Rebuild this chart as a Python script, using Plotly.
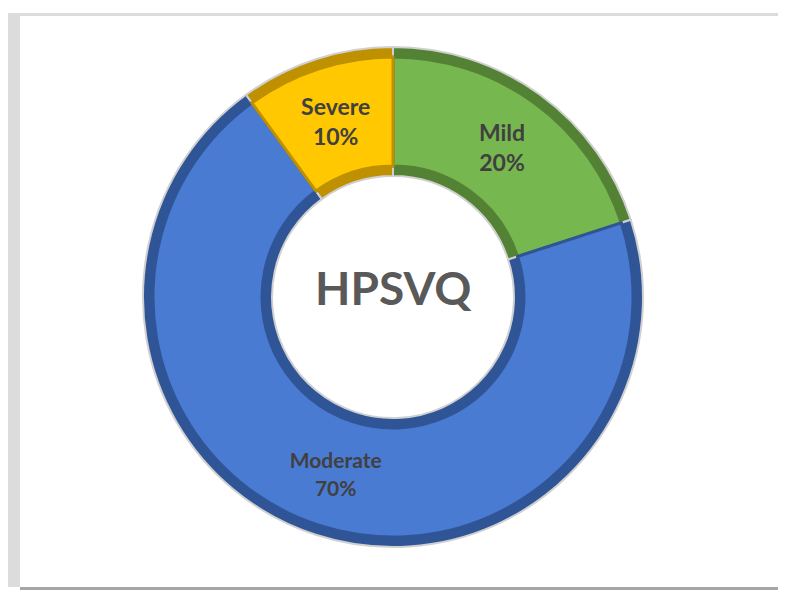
import plotly.graph_objects as go

categories = ["Mild", "Moderate", "Severe"]
values = [20, 70, 10]
center_title = "HPSVQ"

face_colors = ["#77b750", "#4a7bd3", "#ffc800"]
edge_colors = ["#548235", "#2f5597", "#bf9000"]
label_sizes = [23, 21, 23]

# page body has an 8px margin, so the figure is drawn 8px in and is 8px smaller
OFF = 8
W, H = 786 - OFF, 590 - OFF
cx, cy = 393 - OFF, 297 - OFF

def dom(r):
    return dict(x=[(cx - r) / W, (cx + r) / W], y=[(H - cy - r) / H, (H - cy + r) / H])

fig = go.Figure()
# dark outer rim (bevel)
fig.add_trace(go.Pie(
    labels=categories, values=values, sort=False, direction="clockwise", rotation=0,
    hole=121 / 250, domain=dom(250), textinfo="none", hoverinfo="skip",
    marker=dict(colors=edge_colors, line=dict(color="#d0d0d0", width=2)),
    showlegend=False,
))
# lighter face
fig.add_trace(go.Pie(
    labels=categories, values=values, sort=False, direction="clockwise", rotation=0,
    hole=131 / 240, domain=dom(240),
    texttemplate="%{label}<br>%{percent:.0%}", textposition="inside",
    insidetextorientation="horizontal",
    textfont=dict(family="Lato, Noto Sans, sans-serif", size=label_sizes, color="#404040", weight="bold"),
    marker=dict(colors=face_colors, line=dict(color=edge_colors, width=3)),
    showlegend=False,
))

fig.add_annotation(text=center_title, x=cx / W, y=(H - cy + 10) / H, xref="paper", yref="paper",
                   showarrow=False,
                   font=dict(family="Lato, Noto Sans, sans-serif", size=46, color="#595959", weight="bold"))

# frame (page coordinates shifted by OFF)
def px(x):
    return (x - OFF) / W

def py(y):
    return (H - (y - OFF)) / H

shapes = [
    dict(type="rect", xref="paper", yref="paper", x0=px(7), x1=px(20), y0=py(587), y1=py(13),
         fillcolor="#dcdcdc", line=dict(width=0), layer="below"),
    dict(type="rect", xref="paper", yref="paper", x0=px(7), x1=1, y0=py(16), y1=py(13),
         fillcolor="#dcdcdc", line=dict(width=0), layer="below"),
    dict(type="rect", xref="paper", yref="paper", x0=px(20), x1=1, y0=0, y1=py(587),
         fillcolor="#a6a6a6", line=dict(width=0), layer="below"),
]
fig.update_layout(
    width=W, height=H, margin=dict(l=0, r=0, t=0, b=0),
    paper_bgcolor="white", plot_bgcolor="white", shapes=shapes,
)
fig.write_html("out.html")
